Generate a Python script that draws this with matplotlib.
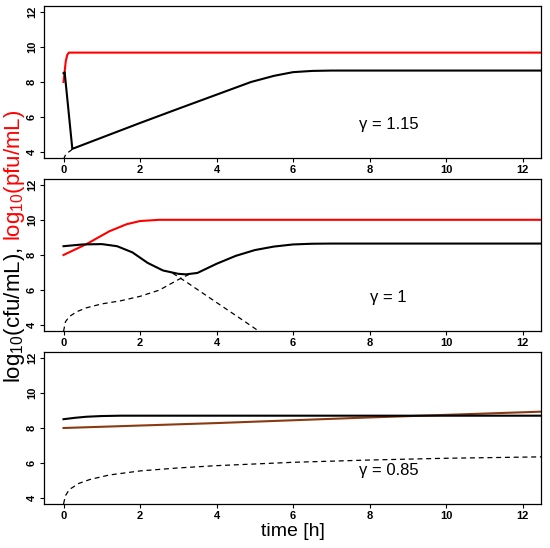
import matplotlib
matplotlib.use("Agg")
import matplotlib.pyplot as plt

plt.rcParams["font.family"] = ["Liberation Sans", "DejaVu Sans"]
plt.rcParams["mathtext.fontset"] = "custom"
plt.rcParams["mathtext.rm"] = "Liberation Sans"
plt.rcParams["mathtext.it"] = "Liberation Sans:italic"

# --- panel 1: gamma = 1.15 ---
t_red1 = [0, 0.03, 0.06, 0.1, 0.14, 12.5]
red1 = [8.0, 8.6, 9.2, 9.55, 9.67, 9.67]
t_blk1 = [0, 0.03, 0.23, 1, 2, 3, 4, 4.9, 5.5, 6, 6.5, 7, 12.5]
blk1 = [8.5, 8.55, 4.2, 4.84, 5.67, 6.48, 7.28, 8.0, 8.35, 8.56, 8.63, 8.65, 8.65]
t_dash1 = [0.0, 0.05, 0.12, 0.2, 0.23]
dash1 = [3.6, 3.85, 4.0, 4.12, 4.2]

# --- panel 2: gamma = 1 ---
t_red2 = [0, 0.6, 1.2, 1.65, 2.0, 2.5, 3, 12.5]
red2 = [8.0, 8.62, 9.35, 9.75, 9.93, 10.0, 10.0, 10.0]
t_blk2 = [0, 0.5, 1.0, 1.4, 1.8, 2.2, 2.6, 3.0, 3.2, 3.5, 4.0, 4.5, 5.0, 5.5, 6.0, 6.5, 7, 12.5]
blk2 = [8.5, 8.6, 8.62, 8.5, 8.15, 7.55, 7.12, 6.93, 6.9, 6.98, 7.5, 7.95, 8.28, 8.48, 8.6, 8.64, 8.65, 8.65]
t_dash2a = [0, 0.05, 0.15, 0.35, 0.6, 1.0, 1.5, 2.0, 2.5, 3.0, 3.3]
dash2a = [3.65, 4.2, 4.5, 4.78, 5.0, 5.22, 5.4, 5.65, 6.0, 6.6, 6.92]
t_dash2b = [2.85, 3.2, 4.0, 4.6, 5.1]
dash2b = [6.97, 6.48, 5.3, 4.42, 3.68]

# --- panel 3: gamma = 0.85 ---
t_red3 = [0, 4, 8, 12.5]
red3 = [8.0, 8.28, 8.6, 8.93]
t_blk3 = [0, 0.3, 0.6, 1.0, 1.5, 12.5]
blk3 = [8.5, 8.58, 8.64, 8.68, 8.7, 8.7]
t_dash3 = [0, 0.05, 0.15, 0.4, 0.7, 1.2, 2, 3, 4, 6, 8, 10, 12.5]
dash3 = [3.68, 4.15, 4.5, 4.85, 5.08, 5.33, 5.56, 5.73, 5.86, 6.05, 6.18, 6.28, 6.36]

gamma_labels = ["\u03b3 = 1.15", "\u03b3 = 1", "\u03b3 = 0.85"]
x_ticks = [0, 2, 4, 6, 8, 10, 12]
y_ticks = [4, 6, 8, 10, 12]

panels = [
    (t_red1, red1, "red", t_blk1, blk1, [(t_dash1, dash1)]),
    (t_red2, red2, "red", t_blk2, blk2, [(t_dash2a, dash2a), (t_dash2b, dash2b)]),
    (t_red3, red3, "#8a3a12", t_blk3, blk3, [(t_dash3, dash3)]),
]

W, H = 550, 548
fig = plt.figure(figsize=(W / 100, H / 100), dpi=100)
left, right = 44, 541
tops = [6, 179, 352]
ph = 152

for (tr, r, rc, tb, b, dashes), top, glabel in zip(panels, tops, gamma_labels):
    ax = fig.add_axes([left / W, 1 - (top + ph) / H, (right - left) / W, ph / H])
    for td, d in dashes:
        ax.plot(td, d, color="black", lw=0.9, dashes=(4, 3))
    ax.plot(tr, r, color=rc, lw=1.5)
    ax.plot(tb, b, color="black", lw=1.5)
    ax.text(8.5, 5.57, glabel, ha="center", va="center", fontsize=12)
    ax.set_xlim(-0.51, 12.48)
    ax.set_ylim(3.68, 12.32)
    ax.set_xticks(x_ticks)
    ax.set_yticks(y_ticks)
    ax.set_yticklabels([str(v) for v in y_ticks], rotation=90, va="center")
    ax.tick_params(length=3, width=0.8, pad=2, labelsize=8)
    for lab in ax.get_xticklabels() + ax.get_yticklabels():
        lab.set_fontweight("bold")
    for sp in ax.spines.values():
        sp.set_linewidth(0.9)

fig.text(292.5 / W, 1 - 532 / H, "time [h]", ha="center", va="center", fontsize=14)
fig.text(15 / W, 1 - 247 / H, r"log$_{10}$(cfu/mL),", rotation=90,
         ha="center", va="top", fontsize=16, color="black")
fig.text(15 / W, 1 - 241 / H, r"log$_{10}$(pfu/mL)", rotation=90,
         ha="center", va="bottom", fontsize=16, color="red")

fig.savefig("out.png", dpi=100)
